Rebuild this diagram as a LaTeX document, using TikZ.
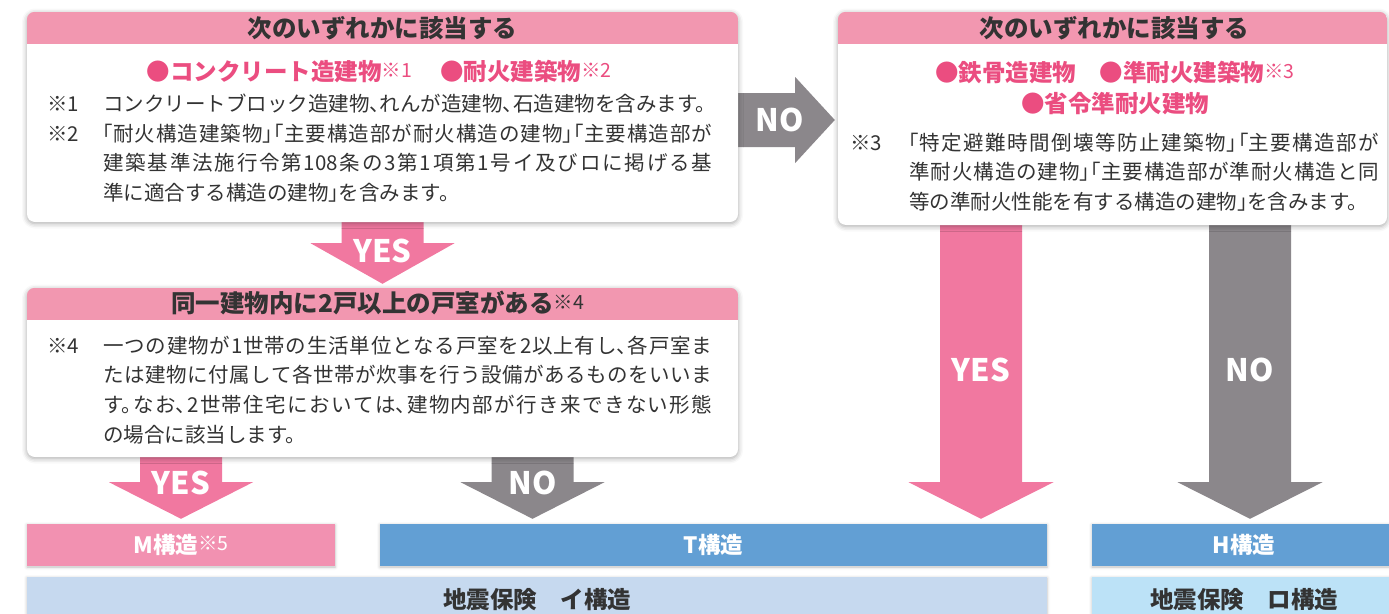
\documentclass[tikz,border=0pt]{standalone}
\usepackage{fontspec}
\setmainfont{Noto Sans CJK JP}[RawFeature=+halt]
\usetikzlibrary{calc,shadows.blur}
\pgfdeclarelayer{arrows}
\pgfsetlayers{arrows,main}
\XeTeXlinebreaklocale "ja"
\XeTeXlinebreakskip=0pt plus 6pt
\tolerance=9999
\hbadness=10000
\definecolor{headpink}{HTML}{F297B0}
\definecolor{redtext}{HTML}{EB4D80}
\definecolor{pinkarrow}{HTML}{F178A0}
\definecolor{grayarrow}{HTML}{8B878B}
\definecolor{mpink}{HTML}{F291B1}
\definecolor{tblue}{HTML}{629FD4}
\definecolor{ilight}{HTML}{C6D9EF}
\definecolor{rolight}{HTML}{BCE2F7}
\definecolor{darktext}{HTML}{333333}
\newcommand{\kome}[1]{\raisebox{3pt}{\mdseries\fontsize{19.5}{19.5}\selectfont #1}}
\begin{document}
\begin{tikzpicture}[x=1pt,y=-1pt,
		card/.style={fill=white,rounded corners=8pt,inner sep=0pt,
			blur shadow={shadow xshift=0pt,shadow yshift=-1.5pt,shadow blur radius=5pt,shadow opacity=35}},
		bar/.style={inner sep=0pt,minimum height=42pt,
			blur shadow={shadow xshift=0pt,shadow yshift=-1pt,shadow blur radius=3pt,shadow opacity=25}},
		headtext/.style={inner sep=0pt,text=darktext,font=\bfseries\fontsize{24.5}{28}\selectfont},
		kindtext/.style={inner sep=0pt,text=redtext,align=center,font=\bfseries\fontsize{23.5}{31}\selectfont},
		notetext/.style={inner sep=0pt,anchor=base west,text=darktext,align=justify,font=\fontsize{20.5}{29.7}\selectfont},
		komemark/.style={inner sep=0pt,anchor=base west,text=darktext,font=\fontsize{20.5}{29.7}\selectfont},
		yesno/.style={inner sep=0pt,text=white,font=\bfseries\fontsize{31}{31}\selectfont},
		bartext/.style={inner sep=0pt,text=white,font=\bfseries\fontsize{22.5}{22}\selectfont},
		hokentext/.style={inner sep=0pt,text=darktext,font=\bfseries\fontsize{23.5}{23}\selectfont}]
	\useasboundingbox (0,0) rectangle (1389,613);
	% first question
	\node[card,minimum width=711pt,minimum height=210pt] (boxA) at (382.5,117) {};
	\begin{scope}
		\clip[rounded corners=8pt] (boxA.north west) rectangle (boxA.south east);
		\fill[headpink] (boxA.north west) rectangle ($(boxA.north east)+(0,32)$);
	\end{scope}
	\node[headtext] (headA) at ($(boxA.north)+(0,16)$) {次のいずれかに該当する};
	\node[kindtext] (kindA) at (379,72) {●コンクリート造建物\kome{※1}\hspace{1.2em}●耐火建築物\kome{※2}};
	\node[komemark] (koA1) at (47,111) {※1};
	\node[notetext,text width=609pt] (noteA1) at (103,111) {コンクリートブロック造建物、れんが造建物、石造建物を含みます。};
	\node[komemark] (koA2) at (47,141) {※2};
	\node[notetext,text width=609pt] (noteA2) at (103,141) {「耐火構造建築物」「主要構造部が耐火構造の建物」「主要構造部が\linebreak 建築基準法施行令第108条の3第1項第1号イ及びロに掲げる基\linebreak 準に適合する構造の建物」を含みます。};
	% second question
	\node[card,minimum width=549pt,minimum height=213pt] (boxB) at (1112.5,118.5) {};
	\begin{scope}
		\clip[rounded corners=8pt] (boxB.north west) rectangle (boxB.south east);
		\fill[headpink] (boxB.north west) rectangle ($(boxB.north east)+(0,32)$);
	\end{scope}
	\node[headtext] (headB) at ($(boxB.north)+(2,16)$) {次のいずれかに該当する};
	\node[kindtext] (kindB) at (1115,88) {●鉄骨造建物\hspace{1em}●準耐火建築物\kome{※3}\\●省令準耐火建物};
	\node[komemark] (koB3) at (850,150) {※3};
	\node[notetext,text width=470pt] (noteB3) at (909,150) {「特定避難時間倒壊等防止建築物」「主要構造部が\linebreak 準耐火構造の建物」「主要構造部が準耐火構造と同\linebreak 等の準耐火性能を有する構造の建物」を含みます。};
	% third question
	\node[card,minimum width=711pt,minimum height=169pt] (boxC) at (382.5,372.5) {};
	\begin{scope}
		\clip[rounded corners=8pt] (boxC.north west) rectangle (boxC.south east);
		\fill[headpink] (boxC.north west) rectangle ($(boxC.north east)+(0,32)$);
	\end{scope}
	\node[headtext] (headC) at ($(boxC.north)+(-5,15)$) {同一建物内に2戸以上の戸室がある\kome{※4}};
	\node[komemark] (koC4) at (47,353) {※4};
	\node[notetext,text width=609pt] (noteC4) at (103,353) {一つの建物が1世帯の生活単位となる戸室を2以上有し、各戸室ま\linebreak たは建物に付属して各世帯が炊事を行う設備があるものをいいま\linebreak す。なお、2世帯住宅においては、建物内部が行き来できない形態\linebreak の場合に該当します。};
	% results
	\node[bar,fill=mpink,minimum width=308pt] (boxM) at (181,545) {};
	\node[bartext] (textM) at (boxM) {M構造\kome{※5}};
	\node[bar,fill=tblue,minimum width=667pt] (boxT) at (713.5,545) {};
	\node[bartext] (textT) at (boxT) {T構造};
	\node[bar,fill=tblue,minimum width=304pt] (boxH) at (1244,545) {};
	\node[bartext] (textH) at (boxH) {H構造};
	\node[bar,fill=ilight,minimum width=1020pt,minimum height=48pt] (boxI) at (537,601) {};
	\node[hokentext] (textI) at (537,600) {地震保険　イ構造};
	\node[bar,fill=rolight,minimum width=304pt,minimum height=48pt] (boxRo) at (1244,601) {};
	\node[hokentext] (textRo) at (1244,600) {地震保険　ロ構造};
	% arrow bases and tips
	\coordinate (baseCM) at (boxC.south -| boxM.north);
	\coordinate (tipCM) at ($(boxM.north)+(0,-5)$);
	\coordinate (baseCT) at ($(boxC.south)+(150,0)$);
	\coordinate (tipCT) at ($(baseCT |- boxT.north)+(0,-5)$);
	\coordinate (baseBT) at ($(boxB.south)+(-131.5,0)$);
	\coordinate (tipBT) at ($(baseBT |- boxT.north)+(0,-5)$);
	\coordinate (baseBH) at ($(boxB.south)+(137.5,0)$);
	\coordinate (tipBH) at ($(baseBH |- boxH.north)+(0,-5)$);
	% block arrows
	\begin{pgfonlayer}{arrows}
		\fill[grayarrow] ($(boxA.east)+(0,-24)$) -- ($(boxA.east)+(57,-24)$) -- ($(boxA.east)+(57,-40)$) -- ($(boxB.west)+(-3,1.5)$) -- ($(boxA.east)+(57,46)$) -- ($(boxA.east)+(57,30)$) -- ($(boxA.east)+(0,30)$) -- cycle;
		\fill[pinkarrow] ($(boxA.south)+(-41,0)$) -- ($(boxA.south)+(-41,21)$) -- ($(boxA.south)+(-72,21)$) -- ($(boxC.north)+(0,-4)$) -- ($(boxA.south)+(72,21)$) -- ($(boxA.south)+(41,21)$) -- ($(boxA.south)+(41,0)$) -- cycle;
		\fill[pinkarrow] ($(baseCM)+(-41,0)$) -- ($(baseCM)+(-41,25)$) -- ($(baseCM)+(-72,25)$) -- (tipCM) -- ($(baseCM)+(72,25)$) -- ($(baseCM)+(41,25)$) -- ($(baseCM)+(41,0)$) -- cycle;
		\fill[grayarrow] ($(baseCT)+(-41,0)$) -- ($(baseCT)+(-41,25)$) -- ($(baseCT)+(-72,25)$) -- (tipCT) -- ($(baseCT)+(72,25)$) -- ($(baseCT)+(41,25)$) -- ($(baseCT)+(41,0)$) -- cycle;
		\fill[pinkarrow] ($(baseBT)+(-41,0)$) -- ($(baseBT)+(-41,257)$) -- ($(baseBT)+(-72.5,257)$) -- (tipBT) -- ($(baseBT)+(72.5,257)$) -- ($(baseBT)+(41,257)$) -- ($(baseBT)+(41,0)$) -- cycle;
		\fill[grayarrow] ($(baseBH)+(-41,0)$) -- ($(baseBH)+(-41,257)$) -- ($(baseBH)+(-72.5,257)$) -- (tipBH) -- ($(baseBH)+(72.5,257)$) -- ($(baseBH)+(41,257)$) -- ($(baseBH)+(41,0)$) -- cycle;
	\end{pgfonlayer}
	\node[yesno] (noAB) at (780,120) {NO};
	\node[yesno] (yesAC) at ($(boxA.south)+(0,29)$) {YES};
	\node[yesno] (yesCM) at ($(baseCM)+(0,26)$) {YES};
	\node[yesno] (noCT) at ($(baseCT)+(0,26)$) {NO};
	\node[yesno] (yesBT) at ($(baseBT)+(0,145)$) {YES};
	\node[yesno] (noBH) at ($(baseBH)+(0,145)$) {NO};
\end{tikzpicture}
\end{document}
